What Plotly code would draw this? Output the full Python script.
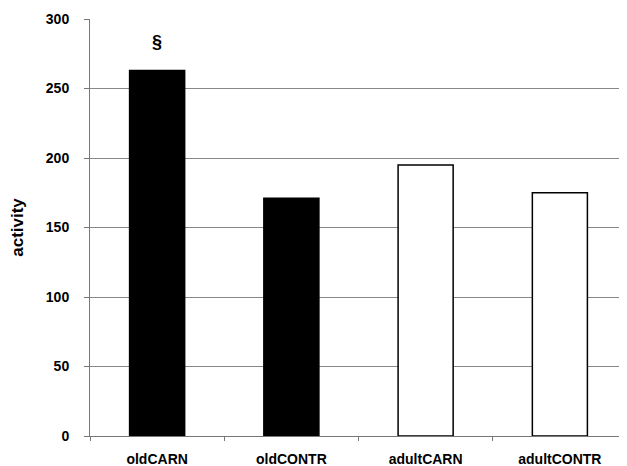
import plotly.graph_objects as go

categories = ["oldCARN", "oldCONTR", "adultCARN", "adultCONTR"]
activity = [263, 171, 195, 175]
fill_colors = ["black", "black", "white", "white"]
y_ticks = [0, 50, 100, 150, 200, 250, 300]
marker_label = "§"

fig = go.Figure()
fig.add_trace(go.Bar(
    x=categories, y=activity,
    marker=dict(color=fill_colors, line=dict(color="black", width=1.5)),
    width=0.41,
))
fig.add_annotation(x=categories[0], y=activity[0], yshift=28, text="<b>" + marker_label + "</b>",
                   showarrow=False, font=dict(family="Arial, Liberation Sans", size=18, color="black"))

fig.update_layout(
    width=619, height=458,
    margin=dict(l=82, r=0, t=11, b=30),
    plot_bgcolor="white", paper_bgcolor="white",
    showlegend=False,
    font=dict(family="Arial, Liberation Sans", size=13, color="black"),
)
fig.update_xaxes(
    range=[-0.5, 3.5], showline=True, linecolor="#777", linewidth=1,
    ticks="outside", tickson="boundaries", ticklen=4, tickcolor="#777",
    tickfont=dict(size=14, weight="bold"),
    ticklabelstandoff=10, showgrid=False, automargin=False,
)
fig.update_yaxes(
    range=[0, 300], tickvals=y_ticks, showline=True, linecolor="#777", linewidth=1,
    ticks="outside", ticklen=5, tickcolor="#777",
    showgrid=True, gridcolor="#888", gridwidth=1,
    tickfont=dict(size=14, weight="bold"),
    ticklabelstandoff=12, automargin=False,
    title=dict(text="activity", font=dict(size=17, weight="bold"), standoff=24),
    zeroline=False,
)
fig.write_html("out.html")
